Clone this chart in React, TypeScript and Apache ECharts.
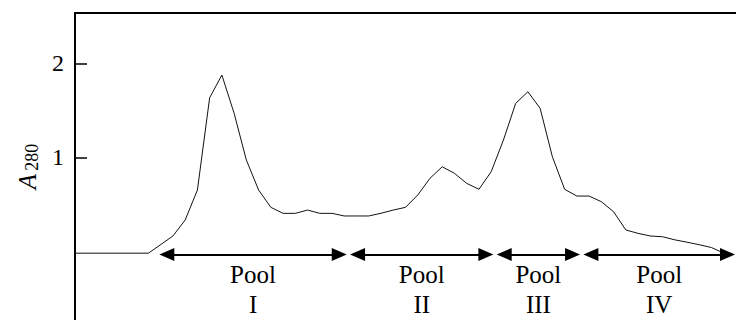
import React, { useEffect, useRef } from "react";
import * as echarts from "echarts";

// Fraction number (x) and absorbance at 280 nm (y)
const fractions = [0, 6, 8, 9, 10, 11, 12, 13, 14, 15, 16, 17, 18, 19, 20, 21, 22, 23, 24, 25, 26, 27, 28, 29, 30, 31, 32, 33, 34, 35, 36, 37, 38, 39, 40, 41, 42, 43, 44, 45, 46, 47, 48, 49, 50, 51, 52, 53];
const a280 = [-0.02, -0.02, 0.163, 0.333, 0.652, 1.634, 1.876, 1.468, 0.971, 0.652, 0.468, 0.404, 0.404, 0.439, 0.404, 0.404, 0.376, 0.376, 0.376, 0.405, 0.439, 0.468, 0.599, 0.777, 0.9, 0.83, 0.723, 0.66, 0.847, 1.184, 1.574, 1.698, 1.521, 1.006, 0.66, 0.588, 0.588, 0.528, 0.421, 0.227, 0.191, 0.163, 0.155, 0.122, 0.097, 0.07, 0.04, -0.02];

// Pools (arrow tip positions in fraction units)
const poolNames = ["I", "II", "III", "IV"];
const poolStart = [6.89, 22.47, 34.45, 41.53];
const poolEnd = [22.2, 34.18, 41.26, 53.92];
const poolArrowY = -0.034;

// Axis
const yTicks = [1, 2];
const yMin = -0.731;
const yMax = 2.536;
const xMin = 0;
const xMax = 54;

const SERIF = "serif";
const W = 736;
const H = 320;
const GRID_LEFT = 75;
const HEAD_LEN = 15;

export default function App() {
  const ref = useRef<HTMLDivElement>(null);
  useEffect(() => {
    if (!ref.current) return;
    const chart = echarts.init(ref.current, undefined, { renderer: "svg" });
    const lineData = fractions.map((f, i) => [f, a280[i]]);
    // symbols are centred on the line ends: pull ends in by half a head so tips land on the pool limits
    const halfHead = ((HEAD_LEN / 2) * (xMax - xMin)) / (W - GRID_LEFT);
    const markData = poolNames.map((name, i) => [
      { coord: [poolStart[i] + halfHead, poolArrowY], name },
      { coord: [poolEnd[i] - halfHead, poolArrowY] },
    ]);
    chart.setOption({
      animation: false,
      backgroundColor: "#ffffff",
      textStyle: { fontFamily: SERIF },
      grid: { left: GRID_LEFT, right: 0, top: 13, bottom: 0, containLabel: false },
      xAxis: {
        type: "value",
        min: xMin,
        max: xMax,
        position: "top",
        axisLine: { show: true, onZero: false, lineStyle: { color: "#000", width: 2 } },
        axisTick: { show: false },
        axisLabel: { show: false },
        splitLine: { show: false },
      },
      yAxis: {
        type: "value",
        min: yMin,
        max: yMax,
        name: "{a|A}{b|280}",
        nameLocation: "middle",
        nameRotate: 90,
        nameGap: 30,
        nameTextStyle: {
          fontFamily: SERIF,
          rich: {
            a: { fontFamily: SERIF, fontSize: 25, fontStyle: "italic", color: "#000", lineHeight: 26, verticalAlign: "top" },
            b: { fontFamily: SERIF, fontSize: 18, color: "#000", lineHeight: 18, padding: [14, 0, 0, 3], verticalAlign: "bottom" },
          },
        },
        axisLine: { show: true, onZero: false, lineStyle: { color: "#000", width: 2 } },
        axisTick: { show: true, inside: true, length: 12, customValues: yTicks, lineStyle: { color: "#000", width: 1.5 } },
        axisLabel: { show: true, customValues: yTicks, margin: 11, fontFamily: SERIF, fontSize: 24, color: "#000" },
        splitLine: { show: false },
      },
      series: [
        {
          type: "line",
          data: lineData,
          showSymbol: false,
          symbol: "none",
          lineStyle: { color: "#111", width: 1 },
          silent: true,
          markLine: {
            silent: true,
            symbol: ["triangle", "triangle"],
            symbolSize: [13, HEAD_LEN],
            lineStyle: { color: "#000", width: 2, type: "solid" },
            label: {
              show: true,
              position: "insideMiddleBottom",
              distance: 5,
              formatter: (p: any) => "Pool\n" + p.name,
              fontFamily: SERIF,
              fontSize: 25,
              lineHeight: 30,
              color: "#000",
              align: "center",
            },
            emphasis: { disabled: true },
            data: markData,
          },
        },
      ],
    });
    return () => chart.dispose();
  }, []);
  return <div ref={ref} style={{ position: "absolute", left: 0, top: 0, width: W, height: H }} />;
}
